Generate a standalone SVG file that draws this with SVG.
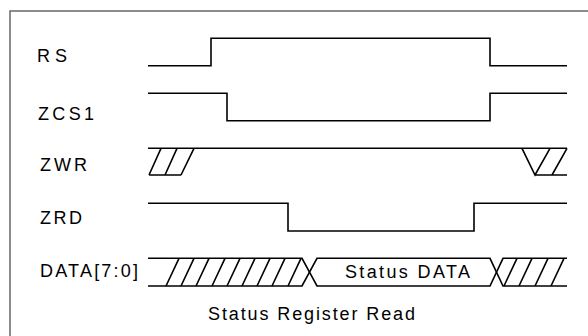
<svg xmlns="http://www.w3.org/2000/svg" width="588" height="336" viewBox="0 0 588 336">
<style>
.frame{fill:none;stroke:#707070;stroke-width:1.6}
.w{fill:none;stroke:#000;stroke-width:1.6;stroke-linejoin:miter}
.lbl{font-family:"Liberation Sans",Arial,sans-serif;font-size:18px;fill:#000}
</style>
<rect x="10" y="11" width="640" height="400" fill="#fff"/>
<rect class="frame" x="10" y="11" width="640" height="400"/>
<g id="labels">
<text class="lbl" x="37" y="62" textLength="30" lengthAdjust="spacing">RS</text>
<text class="lbl" x="38" y="120" textLength="56" lengthAdjust="spacing">ZCS1</text>
<text class="lbl" x="40" y="171" textLength="47" lengthAdjust="spacing">ZWR</text>
<text class="lbl" x="40" y="224" textLength="42" lengthAdjust="spacing">ZRD</text>
<text class="lbl" x="40" y="277" textLength="98" lengthAdjust="spacing">DATA[7:0]</text>
</g>
<g id="connectors">
<g id="RS"><path class="w" d="M148,65.7 H211 V38.3 H490 V65.7 H567"/></g>
<g id="ZCS1"><path class="w" d="M148,93.3 H227 V120.7 H490 V93.3 H567"/></g>
<g id="ZWR">
<path class="w" d="M148,148.3 H567"/>
<path class="w" d="M149,175 H181 M149,175 L161,148.3 M165,175 L177,148.3 M181,175 L194,148.3"/>
<path class="w" d="M535,175 H567 M522,148.3 L535,175 L550,148.3 M552,175 L567,148.3"/>
</g>
<g id="ZRD"><path class="w" d="M148,203.3 H288 V231 H474 V203.3 H567"/></g>
<g id="DATA">
<path class="w" d="M148,258.3 H302 L317,286 H490 L503,258.3 H567"/>
<path class="w" d="M148,286 H302 L317,258.3 H490 L503,286 H567"/>
<path class="w" d="M166,286 L179,258.3 M181,286 L194,258.3 M196,286 L209,258.3 M212,286 L225,258.3 M227,286 L240,258.3 M242,286 L255,258.3 M257,286 L270,258.3 M272,286 L285,258.3 M288,286 L301,258.3"/>
<path class="w" d="M504,286 L517,258.3 M519,286 L532,258.3 M535,286 L548,258.3 M551,286 L564,258.3"/>
<text class="lbl" x="345" y="278" textLength="125" lengthAdjust="spacing">Status DATA</text>
</g>
</g>
<text class="lbl" x="208" y="320" textLength="207" lengthAdjust="spacing">Status Register Read</text>
</svg>
